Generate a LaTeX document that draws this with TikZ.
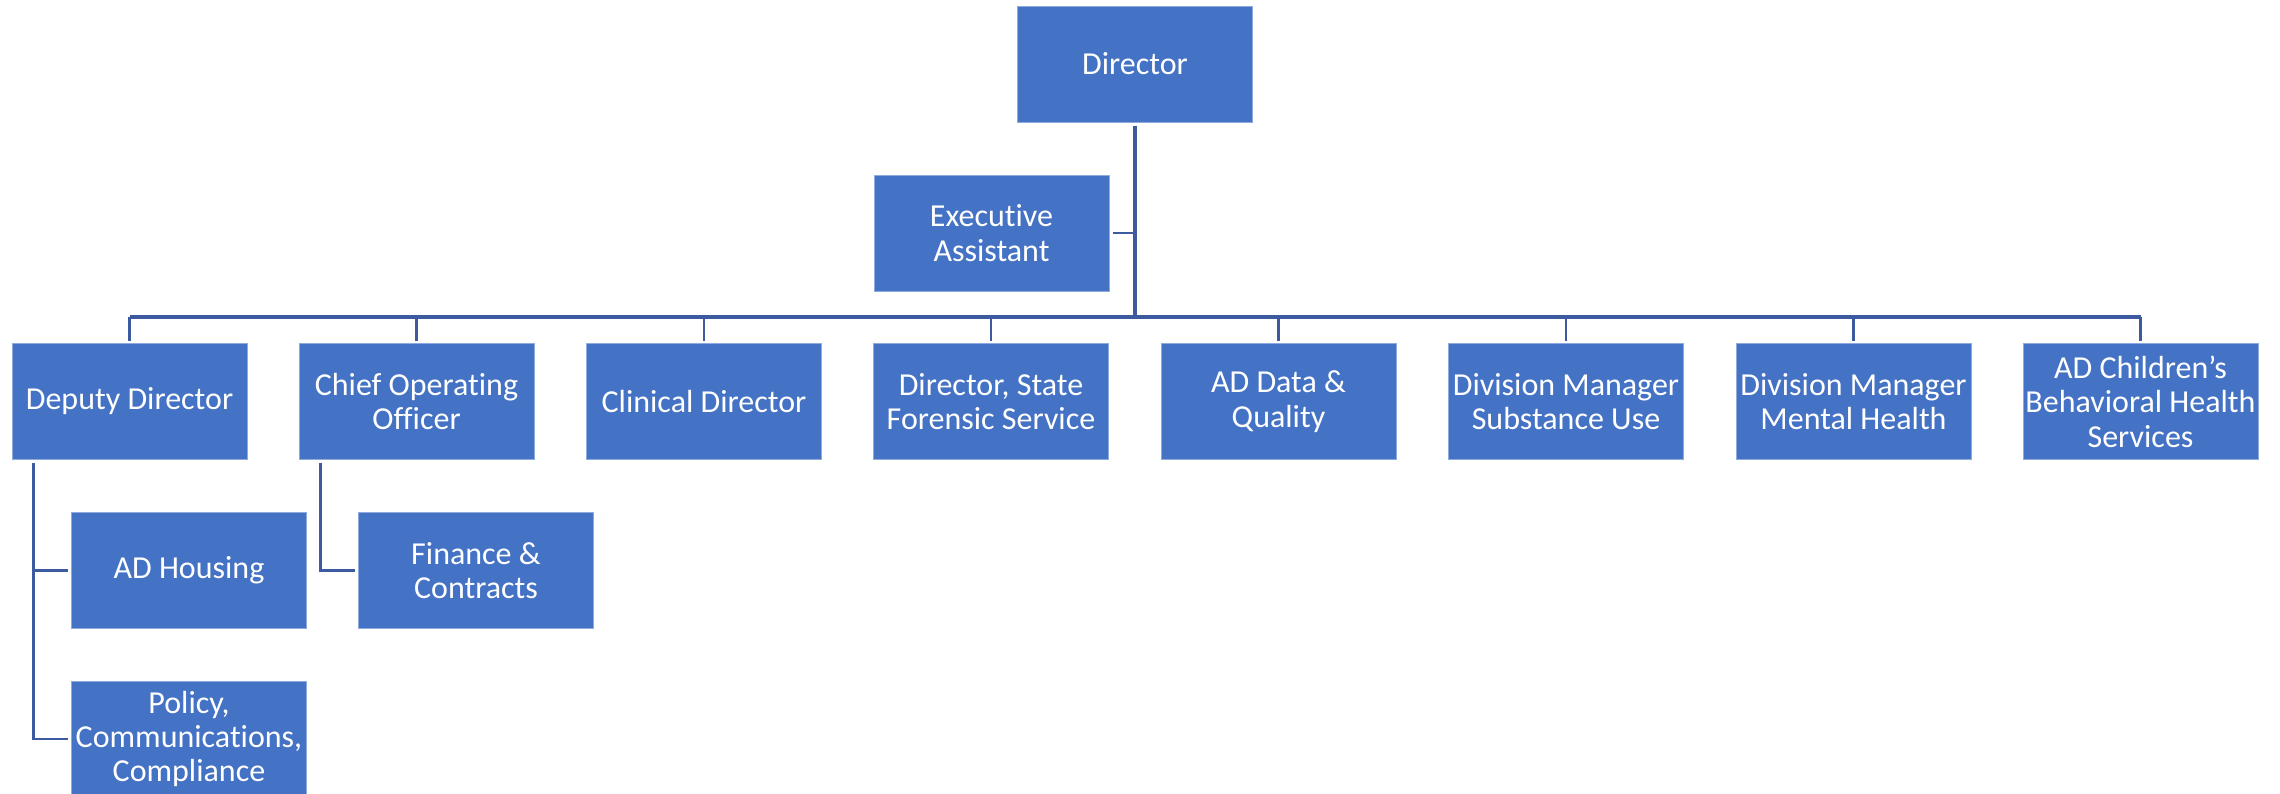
\documentclass[tikz,border=0pt]{standalone}
\usepackage{fontspec}
\setmainfont{Carlito}[Ligatures={CommonOff,ContextualOff},RawFeature={-liga;-clig;-dlig}]
\definecolor{boxfill}{HTML}{4472C4}
\definecolor{boxedge}{HTML}{8FAADC}
\definecolor{linecol}{RGB}{60,90,160}
\begin{document}
\begin{tikzpicture}[x=0.5pt,y=-0.5pt,
  orgbox/.style={draw=boxedge, line width=0.5pt, fill=boxfill, text=white,
    minimum width=117.5pt, minimum height=58pt, inner sep=1pt, align=center,
    font=\fontsize{16}{17.2}\selectfont},
  mainline/.style={draw=linecol, line width=1.6pt},
  subline/.style={draw=linecol, line width=1.2pt}]
\useasboundingbox (0,0) rectangle (2280,793);
\clip (0,0) rectangle (2280,793);
% top
\node[orgbox] (dir) at (1135,64) {Director};
\node[orgbox] (ea) at (991.5,233) {Executive\\Assistant};
% level 2
\node[orgbox] (dep) at (129.5,401.5) {Deputy Director};
\node[orgbox] (coo) at (416.5,401.5) {Chief Operating\\Officer};
\node[orgbox] (cd) at (704,401.5) {Clinical Director};
\node[orgbox] (dsfs) at (991,401.5) {Director, State\\Forensic Service};
\node[orgbox] (adq) at (1278.5,401.5) {AD Data \&\\Quality};
\node[orgbox] (dmsu) at (1566,401.5) {Division Manager\\Substance Use};
\node[orgbox] (dmmh) at (1853.5,401.5) {Division Manager\\Mental Health};
\node[orgbox] (adc) at (2140.5,401.5) {AD Children’s\\Behavioral Health\\Services};
% level 3
\node[orgbox] (adh) at (189,570.5) {AD Housing};
\node[orgbox] (pcc) at (189,739) {Policy,\\Communications,\\Compliance};
\node[orgbox] (fin) at (476,570.5) {Finance \&\\Contracts};
% connectors
\coordinate (busmid) at (1135,317);
\coordinate (busl) at (129.5,317);
\coordinate (busr) at (2140.5,317);
\draw[mainline] ([yshift=-1.5pt]dir.south) -- (busmid);
\draw[subline] ([xshift=1.5pt]ea.east) -- (ea.east -| busmid);
\draw[mainline] (busl) -- (busr);
\foreach \n in {dep,coo,cd,dsfs,adq,dmsu,dmmh,adc}
  \draw[subline] (\n.north |- busl) -- ([yshift=1pt]\n.north);
\coordinate (depv) at ([xshift=11pt,yshift=-1.5pt]dep.south west);
\coordinate (coov) at ([xshift=11pt,yshift=-1.5pt]coo.south west);
\draw[subline] (depv) |- ([xshift=-1.5pt]pcc.west);
\draw[subline] (depv |- adh.west) -- ([xshift=-1.5pt]adh.west);
\draw[subline] (coov) |- ([xshift=-1.5pt]fin.west);
\end{tikzpicture}
\end{document}
